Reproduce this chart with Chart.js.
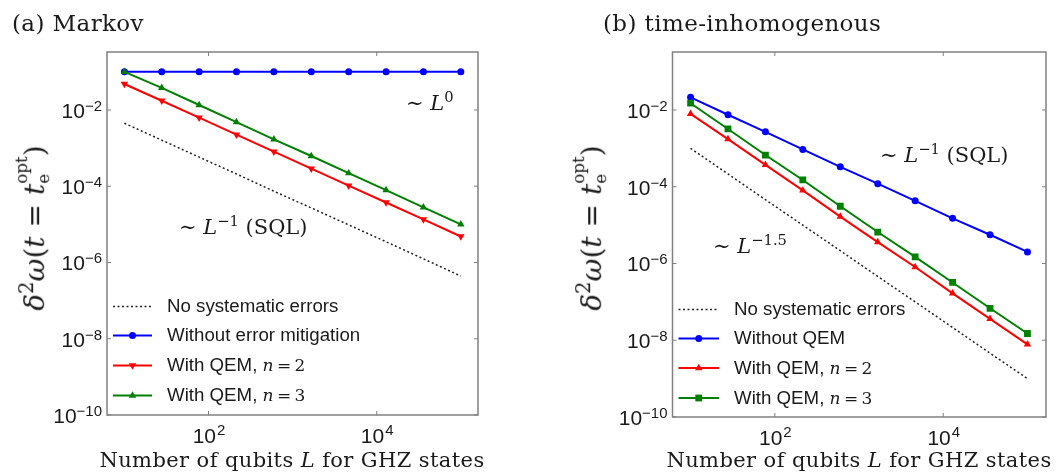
<!DOCTYPE html>
<html lang="en">
<head>
<meta charset="UTF-8">
<title>GHZ states with QEM</title>
<script src="https://cdn.jsdelivr.net/npm/chart.js@4.4.1/dist/chart.umd.min.js"></script>
<style>
    body { margin: 0; background: #fff; }
    .fig { position: relative; width: 1060px; height: 472px; overflow: hidden; font-family: "DejaVu Serif", serif; color: #1a1a1a; }
    .fig canvas { position: absolute; top: 0; }
    .t { position: absolute; white-space: nowrap; line-height: 1; }
    .title { font-size: 23px; letter-spacing: 0.4px; }
    .xlabel { font-size: 21px; letter-spacing: 0.4px; transform: translateX(-50%); }
    .ylabel { font-size: 28px; transform: translate(-50%, -50%) rotate(-90deg); }
    .note { font-size: 21px; }
    .leg { font-family: "Liberation Sans", Arial, sans-serif; font-size: 18.7px; transform: translateY(-50%); }
    .leg .m { font-family: "DejaVu Serif", serif; font-size: 17px; }
    .sup { font-size: 70%; position: relative; top: -0.55em; }
    .ss { display: inline-block; font-size: 60%; line-height: 1.3; position: relative; top: 0.3em; }
    .ss span { display: block; }
</style>
</head>
<body>
<div class="fig">
    <canvas id="markov" width="530" height="472" style="left:0"></canvas>
    <canvas id="inhom" width="530" height="472" style="left:530px"></canvas>

    <div class="t title" style="left:12px; top:12px">(a) Markov</div>
    <div class="t title" style="left:603px; top:12px">(b) time-inhomogenous</div>

    <div class="t xlabel" style="left:292px; top:450px">Number of qubits <i>L</i> for GHZ states</div>
    <div class="t xlabel" style="left:859px; top:450px">Number of qubits <i>L</i> for GHZ states</div>

    <div class="t ylabel" style="left:28px; top:228px"><i>δ</i><span class="sup">2</span><i>ω</i>(<i>t</i> = <i>t</i><span class="ss"><span>opt</span><span>e</span></span>)</div>
    <div class="t ylabel" style="left:585px; top:228px"><i>δ</i><span class="sup">2</span><i>ω</i>(<i>t</i> = <i>t</i><span class="ss"><span>opt</span><span>e</span></span>)</div>

    <div class="t note" style="left:406px; top:93px">∼ <i>L</i><span class="sup">0</span></div>
    <div class="t note" style="left:179px; top:217px">∼ <i>L</i><span class="sup">−1</span> (SQL)</div>
    <div class="t note" style="left:880px; top:145px">∼ <i>L</i><span class="sup">−1</span> (SQL)</div>
    <div class="t note" style="left:713px; top:236px">∼ <i>L</i><span class="sup">−1.5</span></div>

    <div class="t leg" style="left:167px; top:306px">No systematic errors</div>
    <div class="t leg" style="left:167px; top:335px">Without error mitigation</div>
    <div class="t leg" style="left:167px; top:365px">With QEM, <span class="m"><i>n</i>&thinsp;=&thinsp;2</span></div>
    <div class="t leg" style="left:167px; top:395px">With QEM, <span class="m"><i>n</i>&thinsp;=&thinsp;3</span></div>

    <div class="t leg" style="left:734px; top:309px">No systematic errors</div>
    <div class="t leg" style="left:734px; top:338px">Without QEM</div>
    <div class="t leg" style="left:734px; top:368px">With QEM, <span class="m"><i>n</i>&thinsp;=&thinsp;2</span></div>
    <div class="t leg" style="left:734px; top:398px">With QEM, <span class="m"><i>n</i>&thinsp;=&thinsp;3</span></div>
</div>

<script>
// number of qubits L (same for every series)
const qubits = [10, 27.8, 77.4, 215, 599, 1668, 4642, 12915, 35938, 100000];
const xTickValues = [1e2, 1e4];
const yTickValues = [1e-10, 1e-8, 1e-6, 1e-4, 1e-2];

// (a) Markov
const markovNoError = [4.5e-3, 1.62e-3, 5.8e-4, 2.1e-4, 7.4e-5, 2.7e-5, 9.7e-6, 3.5e-6, 1.25e-6, 4.4e-7];
const markovWithout = [0.1, 0.1, 0.1, 0.1, 0.1, 0.1, 0.1, 0.1, 0.1, 0.1];
const markovQem2 = [0.048, 0.0175, 6.3e-3, 2.25e-3, 8.1e-4, 2.9e-4, 1.04e-4, 3.75e-5, 1.35e-5, 4.8e-6];
const markovQem3 = [0.1, 0.038, 0.0135, 4.8e-3, 1.7e-3, 6.2e-4, 2.2e-4, 7.9e-5, 2.8e-5, 1.0e-5];

// (b) time-inhomogenous
const inhomNoError = [1.0e-3, 2.15e-4, 4.6e-5, 1.0e-5, 2.15e-6, 4.6e-7, 1.0e-7, 2.15e-8, 4.6e-9, 1.0e-9];
const inhomWithout = [0.0214, 7.5e-3, 2.7e-3, 9.4e-4, 3.3e-4, 1.2e-4, 4.3e-5, 1.5e-5, 5.6e-6, 2.0e-6];
const inhomQem2 = [7.9e-3, 1.74e-3, 3.7e-4, 8.0e-5, 1.67e-5, 3.6e-6, 8.1e-7, 1.66e-7, 3.6e-8, 7.8e-9];
const inhomQem3 = [0.015, 3.2e-3, 6.7e-4, 1.5e-4, 3.1e-5, 6.6e-6, 1.48e-6, 3.2e-7, 6.8e-8, 1.5e-8];

const toPoints = arr => qubits.map((L, i) => ({ x: L, y: arr[i] }));

function marker(ctx, style, r, rot, x, y, color) {
    ctx.fillStyle = color;
    ctx.beginPath();
    if (style === 'circle') {
        ctx.arc(x, y, r, 0, Math.PI * 2);
    } else if (style === 'rect') {
        const s = r * Math.SQRT1_2;
        ctx.rect(x - s, y - s, 2 * s, 2 * s);
    } else {
        let a = rot * Math.PI / 180;
        for (let k = 0; k < 3; k++) {
            const px = x + Math.sin(a) * r, py = y - Math.cos(a) * r;
            k ? ctx.lineTo(px, py) : ctx.moveTo(px, py);
            a += 2 * Math.PI / 3;
        }
        ctx.closePath();
    }
    ctx.fill();
}

// frame, inward ticks, 10^n tick labels and legend samples
const framePlugin = {
    id: 'frame',
    afterDraw(chart, args, opts) {
        const { ctx, chartArea: a, scales: { x, y } } = chart;
        ctx.save();
        ctx.strokeStyle = '#808080';
        ctx.lineWidth = 1;
        const seg = (x1, y1, x2, y2) => { ctx.beginPath(); ctx.moveTo(x1, y1); ctx.lineTo(x2, y2); ctx.stroke(); };
        y.ticks.forEach(t => {
            const py = y.getPixelForValue(t.value);
            seg(a.left, py, a.left + 4, py);
            seg(a.right - 4, py, a.right, py);
        });
        x.ticks.forEach(t => {
            const px = x.getPixelForValue(t.value);
            seg(px, a.bottom, px, a.bottom - 4);
            seg(px, a.top, px, a.top + 4);
        });
        ctx.lineWidth = 1.5;
        ctx.strokeRect(a.left, a.top, a.right - a.left, a.bottom - a.top);

        ctx.fillStyle = '#1a1a1a';
        ctx.textBaseline = 'alphabetic';
        const big = '21px "Liberation Sans", Arial, sans-serif';
        const small = '15px "Liberation Sans", Arial, sans-serif';
        y.ticks.forEach(t => {
            const py = y.getPixelForValue(t.value);
            const e = '\u2212' + Math.round(-Math.log10(t.value));
            ctx.textAlign = 'right';
            ctx.font = small;
            const ew = ctx.measureText(e).width;
            ctx.fillText(e, a.left - 5, py + 1);
            ctx.font = big;
            ctx.fillText('10', a.left - 5 - ew, py + 8);
        });
        x.ticks.forEach(t => {
            const px = x.getPixelForValue(t.value);
            const e = String(Math.round(Math.log10(t.value)));
            ctx.textAlign = 'left';
            ctx.font = big;
            const bw = ctx.measureText('10').width;
            ctx.font = small;
            const ew = ctx.measureText(e).width;
            const x0 = px - (bw + ew) / 2;
            ctx.fillText(e, x0 + bw + 1, a.bottom + 20);
            ctx.font = big;
            ctx.fillText('10', x0, a.bottom + 28);
        });

        chart.data.datasets.forEach((ds, i) => {
            const ry = opts.rows[i];
            ctx.strokeStyle = ds.borderColor;
            ctx.lineWidth = ds.borderWidth;
            ctx.setLineDash(ds.borderDash || []);
            seg(opts.x1, ry, opts.x2, ry);
            ctx.setLineDash([]);
            if (ds.pointRadius > 0) {
                marker(ctx, ds.pointStyle, ds.pointRadius, ds.pointRotation || 0, (opts.x1 + opts.x2) / 2, ry, ds.backgroundColor);
            }
        });
        ctx.restore();
    }
};

function series(data, color, style, radius, rotation, order) {
    return {
        data: toPoints(data), borderColor: color, backgroundColor: color, borderWidth: 2,
        pointStyle: style, pointRadius: radius, pointRotation: rotation, pointBorderWidth: 0, order: order
    };
}

function makePanel(id, p) {
    new Chart(document.getElementById(id), {
        type: 'line',
        data: {
            datasets: [
                { data: toPoints(p.noError), borderColor: '#222', backgroundColor: '#222', borderWidth: 1.5, borderDash: [2, 2.5], pointRadius: 0, order: 4 },
                series(p.without, '#0000ff', 'circle', 3.5, 0, 3),
                series(p.qem2, '#ff0000', 'triangle', 4.3, p.qem2Rot, 2),
                series(p.qem3, '#008000', p.qem3Style, p.qem3Style === 'rect' ? 4.8 : 4.3, 0, 1)
            ]
        },
        options: {
            responsive: false,
            animation: false,
            devicePixelRatio: 1,
            layout: { padding: { top: 52, right: p.padRight, left: 0, bottom: 0 } },
            elements: { line: { tension: 0 } },
            plugins: {
                legend: { display: false },
                tooltip: { enabled: false },
                frame: p.legend
            },
            scales: {
                x: {
                    type: 'logarithmic', min: p.xMin, max: p.xMax,
                    grid: { display: false }, border: { display: false }, ticks: { display: false },
                    afterBuildTicks: s => { s.ticks = xTickValues.map(v => ({ value: v })); },
                    afterFit: s => { s.height = p.xAxisHeight; }
                },
                y: {
                    type: 'logarithmic', min: 1e-10, max: p.yMax,
                    grid: { display: false }, border: { display: false }, ticks: { display: false },
                    afterBuildTicks: s => { s.ticks = yTickValues.map(v => ({ value: v })); },
                    afterFit: s => { s.width = p.yAxisWidth; }
                }
            }
        },
        plugins: [framePlugin]
    });
}

makePanel('markov', {
    noError: markovNoError, without: markovWithout, qem2: markovQem2, qem3: markovQem3,
    qem2Rot: 180, qem3Style: 'triangle',
    xMin: 6.21, xMax: 1.6e5, yMax: 0.332,
    yAxisWidth: 107, padRight: 52, xAxisHeight: 57,
    legend: { x1: 113, x2: 152, rows: [306.5, 335.5, 365.5, 395.5] }
});

makePanel('inhom', {
    noError: inhomNoError, without: inhomWithout, qem2: inhomQem2, qem3: inhomQem3,
    qem2Rot: 0, qem3Style: 'rect',
    xMin: 6.1, xMax: 1.66e5, yMax: 0.324,
    yAxisWidth: 142.5, padRight: 14, xAxisHeight: 55,
    legend: { x1: 148.5, x2: 189, rows: [309.5, 338.5, 368, 398] }
});
</script>
</body>
</html>
